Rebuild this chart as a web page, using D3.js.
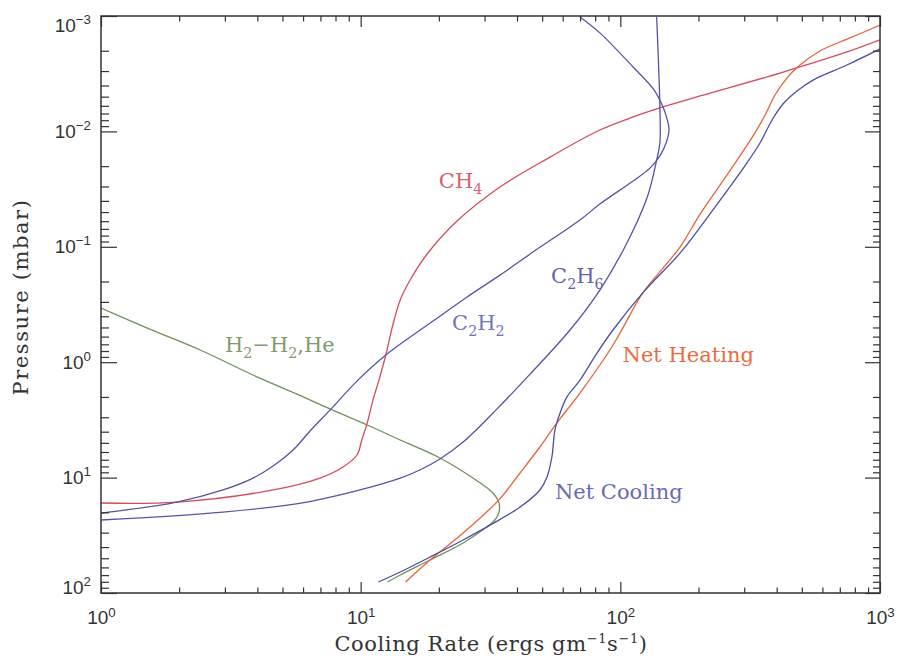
<!DOCTYPE html>
<html>
<head>
<meta charset="utf-8">
<script src="https://cdn.jsdelivr.net/npm/d3@7"></script>
<style>
  body { margin: 0; background: #fff; }
  svg { font-family: 'DejaVu Serif', serif; }
</style>
</head>
<body>
<div id="chart"></div>
<script>
// cooling rate (ergs gm^-1 s^-1) against pressure (mbar)
const h2Rate = [1.00, 1.54, 2.41, 3.99, 5.84, 7.62, 10.6, 14.2, 20.2, 28.8, 32.3, 34.1, 34.1, 32.9, 30.6, 24.8, 18.5, 14.2, 12.7];
const h2Pres = [0.339, 0.516, 0.784, 1.34, 1.94, 2.54, 3.50, 4.72, 6.76, 11.1, 13.6, 16.6, 19.9, 23.3, 26.8, 36.9, 51.8, 69.8, 80.3];

const ch4Rate = [1.00, 1.96, 4.60, 6.97, 8.55, 9.68, 10.1, 10.6, 11.15, 11.76, 12.5, 13.3, 14.2, 15.5, 18.0, 23.5, 34.4, 53.6, 83.4, 112, 146, 203, 412, 746, 1000];
const ch4Pres = [16.6, 16.3, 12.8, 10.1, 8.09, 6.37, 4.72, 3.36, 2.13, 1.43, 0.866, 0.476, 0.289, 0.194, 0.116, 0.0598, 0.0303, 0.0167, 0.00973, 0.00750, 0.00614, 0.00493, 0.00312, 0.00205, 0.00161];

const c2h2Rate = [1.00, 1.96, 2.95, 3.85, 4.60, 5.49, 6.38, 7.62, 9.76, 12.5, 19.0, 25.7, 34.4, 46.1, 69.9, 83.4, 112, 130, 142, 150, 154, 151, 146, 134, 112, 83.4, 69.9];
const c2h2Pres = [20.3, 16.3, 12.8, 10.1, 7.93, 5.77, 3.95, 2.60, 1.43, 0.866, 0.440, 0.272, 0.176, 0.111, 0.0586, 0.0426, 0.0269, 0.0208, 0.0163, 0.0126, 0.00973, 0.00766, 0.00614, 0.00429, 0.00277, 0.00140, 0.00102];

const c2h6Rate = [1.00, 2.95, 6.21, 9.94, 14.2, 16.9, 20.2, 24.8, 33.5, 44.9, 64.0, 83.4, 106, 127, 138, 142, 142, 138];
const c2h6Pres = [23.3, 19.9, 16.3, 12.8, 10.1, 8.59, 6.90, 4.92, 2.54, 1.27, 0.526, 0.237, 0.0927, 0.0370, 0.0177, 0.0126, 0.00614, 0.00102];

const heatRate = [14.9, 18.5, 24.8, 34.1, 41.1, 49.0, 57.0, 69.9, 91.2, 99.7, 122, 146, 170, 203, 264, 324, 361, 394, 438, 492, 587, 766, 1000];
const heatPres = [80.3, 51.8, 30.2, 15.6, 9.12, 5.43, 3.36, 1.85, 0.784, 0.559, 0.251, 0.153, 0.100, 0.0520, 0.0220, 0.0110, 0.00721, 0.00484, 0.00345, 0.00266, 0.00201, 0.00155, 0.00120];

const coolRate = [11.7, 14.2, 18.5, 24.8, 31.5, 41.1, 49.0, 52.2, 54.5, 56.0, 58.6, 62.3, 69.9, 81.3, 93.7, 122, 170, 227, 307, 345, 384, 423, 479, 552, 746, 1000];
const coolPres = [80.3, 65.8, 48.8, 34.7, 25.8, 18.0, 12.8, 9.88, 6.63, 3.87, 2.76, 2.00, 1.43, 0.833, 0.526, 0.251, 0.113, 0.0480, 0.0188, 0.0126, 0.00796, 0.00579, 0.00447, 0.00359, 0.00266, 0.00193];

// curve labels ("_n" = subscript) and where they sit, in data units
const labelNames = ['CH_4', 'C_2H_2', 'C_2H_6', 'H_2\u2212H_2,He', 'Net Heating', 'Net Cooling'];
const labelRate = [20.0, 22.5, 54.1, 3.00, 102, 56.0];
const labelPres = [0.031, 0.526, 0.206, 0.816, 1.0, 15.3];

const xTicks = [1, 10, 100, 1000];
const yTicks = [1e-3, 1e-2, 1e-1, 1, 10, 100];

const width = 901;
const height = 660;

const svg = d3.select('#chart')
  .append('svg')
  .attr('width', width)
  .attr('height', height);

const x = d3.scaleLog().domain([1, 1000]).range([101, 880]);
const y = d3.scaleLog().domain([1e-3, 1e2]).range([16, 593]);

const series = [
  { rate: h2Rate, pres: h2Pres, color: '#72905a' },
  { rate: ch4Rate, pres: ch4Pres, color: '#d44c5c' },
  { rate: c2h2Rate, pres: c2h2Pres, color: '#5454a6' },
  { rate: c2h6Rate, pres: c2h6Pres, color: '#5454a6' },
  { rate: heatRate, pres: heatPres, color: '#e8643a' },
  { rate: coolRate, pres: coolPres, color: '#4e4ea4' }
];
const labelColors = ['#d6606e', '#7474b8', '#6262ae', '#7f9a6e', '#e86c40', '#6a6ab4'];

// clip the curves to the plot box
svg.append('clipPath').attr('id', 'box')
  .append('rect')
  .attr('x', x.range()[0]).attr('y', y.range()[0])
  .attr('width', x.range()[1] - x.range()[0])
  .attr('height', y.range()[1] - y.range()[0]);

const line = d3.line()
  .x(d => x(d[0]))
  .y(d => y(d[1]))
  .curve(d3.curveCatmullRom.alpha(0.5));

svg.append('g')
  .attr('clip-path', 'url(#box)')
  .selectAll('path')
  .data(series)
  .enter()
  .append('path')
  .attr('d', s => line(s.rate.map((r, i) => [r, s.pres[i]])))
  .attr('fill', 'none')
  .attr('stroke', s => s.color)
  .attr('stroke-width', 1.3);

// minor ticks 2..9 in each decade
function minorTicks(lo, hi) {
  const v = [];
  for (let e = lo; e < hi; e++) {
    for (let m = 2; m < 10; m++) v.push(m * Math.pow(10, e));
  }
  return v;
}

function powerLabel(sel) {
  sel.each(function(d) {
    const t = d3.select(this);
    const e = Math.round(Math.log10(d));
    t.text(null);
    t.append('tspan').text('10');
    t.append('tspan')
      .attr('dy', '-0.6em')
      .attr('font-size', '0.7em')
      .text(e < 0 ? '\u2212' + (-e) : e);
  });
}

function styleAxis(g) {
  g.select('.domain').remove();
  g.selectAll('line').attr('stroke', '#333').attr('stroke-width', 1.2);
  g.selectAll('text').attr('fill', '#333').attr('font-size', 19);
}

// bottom
svg.append('g')
  .attr('transform', `translate(0,${y.range()[1]})`)
  .call(d3.axisBottom(x).tickValues(xTicks).tickSize(-11).tickPadding(18))
  .call(styleAxis)
  .call(g => g.selectAll('text').call(powerLabel));
svg.append('g')
  .attr('transform', `translate(0,${y.range()[1]})`)
  .call(d3.axisBottom(x).tickValues(minorTicks(0, 3)).tickSize(-5.5).tickFormat(''))
  .call(styleAxis);

// top
svg.append('g')
  .attr('transform', `translate(0,${y.range()[0]})`)
  .call(d3.axisTop(x).tickValues(xTicks).tickSize(-11).tickFormat(''))
  .call(styleAxis);
svg.append('g')
  .attr('transform', `translate(0,${y.range()[0]})`)
  .call(d3.axisTop(x).tickValues(minorTicks(0, 3)).tickSize(-5.5).tickFormat(''))
  .call(styleAxis);

// left
svg.append('g')
  .attr('transform', `translate(${x.range()[0]},0)`)
  .call(d3.axisLeft(y).tickValues(yTicks).tickSize(-16).tickPadding(10))
  .call(styleAxis)
  .call(g => g.selectAll('text').call(powerLabel))
  .call(g => {
    g.selectAll('.tick text').filter(d => d === 1e-3).attr('dy', '0.8em');
    g.selectAll('.tick text').filter(d => d === 100).attr('dy', '0em');
  });
svg.append('g')
  .attr('transform', `translate(${x.range()[0]},0)`)
  .call(d3.axisLeft(y).tickValues(minorTicks(-3, 2)).tickSize(-8).tickFormat(''))
  .call(styleAxis);

// right
svg.append('g')
  .attr('transform', `translate(${x.range()[1]},0)`)
  .call(d3.axisRight(y).tickValues(yTicks).tickSize(-15).tickFormat(''))
  .call(styleAxis);
svg.append('g')
  .attr('transform', `translate(${x.range()[1]},0)`)
  .call(d3.axisRight(y).tickValues(minorTicks(-3, 2)).tickSize(-7).tickFormat(''))
  .call(styleAxis);

// frame
svg.append('rect')
  .attr('x', x.range()[0]).attr('y', y.range()[0])
  .attr('width', x.range()[1] - x.range()[0])
  .attr('height', y.range()[1] - y.range()[0])
  .attr('fill', 'none')
  .attr('stroke', '#333')
  .attr('stroke-width', 1.5);

// text with "_n" subscripts
function subText(sel, str, size) {
  const parts = str.split(/_(\d)/);
  let shift = 0;
  parts.forEach((p, i) => {
    if (!p) return;
    const sub = i % 2 === 1;
    const target = sub ? size * 0.3 : 0;
    sel.append('tspan')
      .attr('dy', target - shift)
      .attr('font-size', sub ? size * 0.68 : size)
      .text(p);
    shift = target;
  });
}

labelNames.forEach((name, i) => {
  const t = svg.append('text')
    .attr('x', x(labelRate[i]))
    .attr('y', y(labelPres[i]))
    .attr('fill', labelColors[i]);
  subText(t, name, 21);
});

// axis titles
const xTitle = svg.append('text')
  .attr('x', 491)
  .attr('y', 651)
  .attr('text-anchor', 'middle')
  .attr('fill', '#333')
  .attr('font-size', 21)
  .attr('letter-spacing', 0.6);
xTitle.append('tspan').text('Cooling Rate (ergs gm');
xTitle.append('tspan').attr('dy', -8).attr('font-size', 13).text('\u22121');
xTitle.append('tspan').attr('dy', 8).text('s');
xTitle.append('tspan').attr('dy', -8).attr('font-size', 13).text('\u22121');
xTitle.append('tspan').attr('dy', 8).text(')');

svg.append('text')
  .attr('transform', 'translate(28,297) rotate(-90)')
  .attr('text-anchor', 'middle')
  .attr('fill', '#333')
  .attr('font-size', 21)
  .attr('letter-spacing', 1.6)
  .text('Pressure (mbar)');
</script>
</body>
</html>
